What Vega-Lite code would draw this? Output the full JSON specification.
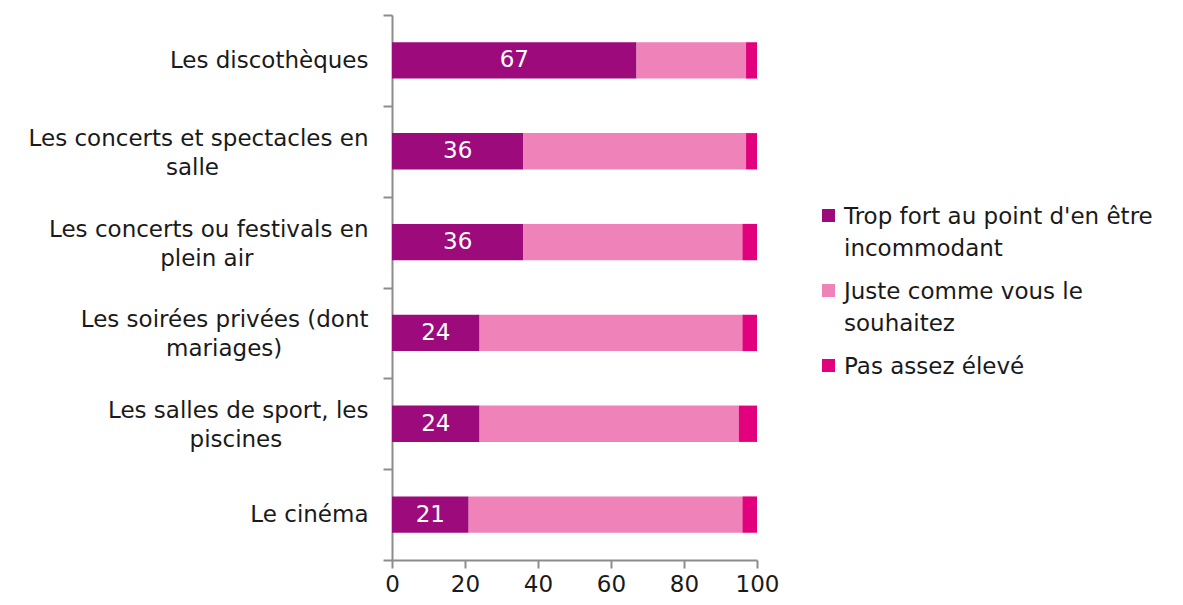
{
  "$schema": "https://vega.github.io/schema/vega-lite/v6.json",
  "autosize": {"type": "none"},
  "padding": {"left": 392, "top": 15, "right": 426, "bottom": 45},
  "width": 365,
  "height": 545,
  "background": "white",
  "config": {
    "font": "DejaVu Sans",
    "view": {"stroke": null}
  },
  "data": {
    "values": [
      {"lieu": "Les discothèques", "reponse": "Trop fort au point d'en être incommodant", "rang": 1, "valeur": 67},
      {"lieu": "Les discothèques", "reponse": "Juste comme vous le souhaitez", "rang": 2, "valeur": 30},
      {"lieu": "Les discothèques", "reponse": "Pas assez élevé", "rang": 3, "valeur": 3},
      {"lieu": "Les concerts et spectacles en salle", "reponse": "Trop fort au point d'en être incommodant", "rang": 1, "valeur": 36},
      {"lieu": "Les concerts et spectacles en salle", "reponse": "Juste comme vous le souhaitez", "rang": 2, "valeur": 61},
      {"lieu": "Les concerts et spectacles en salle", "reponse": "Pas assez élevé", "rang": 3, "valeur": 3},
      {"lieu": "Les concerts ou festivals en plein air", "reponse": "Trop fort au point d'en être incommodant", "rang": 1, "valeur": 36},
      {"lieu": "Les concerts ou festivals en plein air", "reponse": "Juste comme vous le souhaitez", "rang": 2, "valeur": 60},
      {"lieu": "Les concerts ou festivals en plein air", "reponse": "Pas assez élevé", "rang": 3, "valeur": 4},
      {"lieu": "Les soirées privées (dont mariages)", "reponse": "Trop fort au point d'en être incommodant", "rang": 1, "valeur": 24},
      {"lieu": "Les soirées privées (dont mariages)", "reponse": "Juste comme vous le souhaitez", "rang": 2, "valeur": 72},
      {"lieu": "Les soirées privées (dont mariages)", "reponse": "Pas assez élevé", "rang": 3, "valeur": 4},
      {"lieu": "Les salles de sport, les piscines", "reponse": "Trop fort au point d'en être incommodant", "rang": 1, "valeur": 24},
      {"lieu": "Les salles de sport, les piscines", "reponse": "Juste comme vous le souhaitez", "rang": 2, "valeur": 71},
      {"lieu": "Les salles de sport, les piscines", "reponse": "Pas assez élevé", "rang": 3, "valeur": 5},
      {"lieu": "Le cinéma", "reponse": "Trop fort au point d'en être incommodant", "rang": 1, "valeur": 21},
      {"lieu": "Le cinéma", "reponse": "Juste comme vous le souhaitez", "rang": 2, "valeur": 75},
      {"lieu": "Le cinéma", "reponse": "Pas assez élevé", "rang": 3, "valeur": 4}
    ]
  },
  "encoding": {
    "y": {
      "field": "lieu",
      "type": "nominal",
      "sort": null,
      "title": null,
      "scale": {"paddingInner": 0, "paddingOuter": 0},
      "axis": {
        "domainColor": "#8c8c8c",
        "domainWidth": 2,
        "tickColor": "#8c8c8c",
        "tickWidth": 2,
        "tickSize": 9,
        "tickBand": "extent",
        "labelFontSize": 23,
        "labelColor": "#1a1a1a",
        "labelPadding": 15,
        "labelLimit": 0,
        "labelLineHeight": 29,
        "labelOffset": {
          "condition": {"test": "datum.value == 'Les discothèques' || datum.value == 'Le cinéma'", "value": 0},
          "value": -13
        },
        "labelExpr": "datum.label == 'Les concerts et spectacles en salle' ? ['Les concerts et spectacles en', 'salle\u2002\u2002\u2002\u2002\u2002\u2002\u2002\u2002\u2002\u2002\u2002\u2002\u2002\u200b'] : datum.label == 'Les concerts ou festivals en plein air' ? ['Les concerts ou festivals en', 'plein air\u2002\u2002\u2002\u2002\u2002\u2002\u2002\u2002\u2002\u2002\u200b'] : datum.label == 'Les soirées privées (dont mariages)' ? ['Les soirées privées (dont', 'mariages)\u2002\u2002\u2002\u2002\u2002\u2002\u2002\u2005\u200b'] : datum.label == 'Les salles de sport, les piscines' ? ['Les salles de sport, les', 'piscines\u2002\u2002\u2002\u2002\u2002\u2002\u2002\u2005\u200b'] : datum.label"
      }
    }
  },
  "layer": [
    {
      "mark": {"type": "bar", "height": {"band": 0.4}},
      "encoding": {
        "x": {
          "field": "valeur",
          "type": "quantitative",
          "stack": "zero",
          "title": null,
          "scale": {"domain": [0, 100], "nice": false},
          "axis": {
            "values": [0, 20, 40, 60, 80, 100],
            "grid": false,
            "domainColor": "#8c8c8c",
            "domainWidth": 2,
            "tickColor": "#8c8c8c",
            "tickWidth": 2,
            "tickSize": 8,
            "labelFontSize": 23,
            "labelColor": "#1a1a1a",
            "labelPadding": 5,
            "labelFlush": false
          }
        },
        "order": {"field": "rang", "type": "quantitative"},
        "color": {
          "field": "reponse",
          "type": "nominal",
          "sort": ["Trop fort au point d'en être incommodant", "Juste comme vous le souhaitez", "Pas assez élevé"],
          "scale": {
            "domain": ["Trop fort au point d'en être incommodant", "Juste comme vous le souhaitez", "Pas assez élevé"],
            "range": ["#9C0A7B", "#F082BA", "#E2007D"]
          },
          "legend": {
            "title": null,
            "orient": "none",
            "legendX": 425,
            "legendY": 189,
            "symbolType": "square",
            "symbolSize": 169,
            "symbolStrokeWidth": 0,
            "labelFontSize": 23,
            "labelColor": "#1a1a1a",
            "labelLimit": 0,
            "labelOffset": 4,
            "labelBaseline": "top",
            "rowPadding": 18,
            "labelExpr": "datum.label == \"Trop fort au point d'en être incommodant\" ? [\"Trop fort au point d'en être\", 'incommodant'] : datum.label == 'Juste comme vous le souhaitez' ? ['Juste comme vous le', 'souhaitez'] : datum.label",
            "encode": {"labels": {"update": {"lineHeight": {"value": 32}, "dy": {"value": -10}}}}
          }
        }
      }
    },
    {
      "transform": [{"filter": "datum.rang == 1"}],
      "mark": {"type": "text", "color": "white", "fontSize": 23, "align": "center", "baseline": "middle"},
      "encoding": {
        "x": {"field": "valeur", "type": "quantitative", "stack": "zero", "bandPosition": 0.5},
        "text": {"field": "valeur", "type": "quantitative"}
      }
    }
  ]
}
